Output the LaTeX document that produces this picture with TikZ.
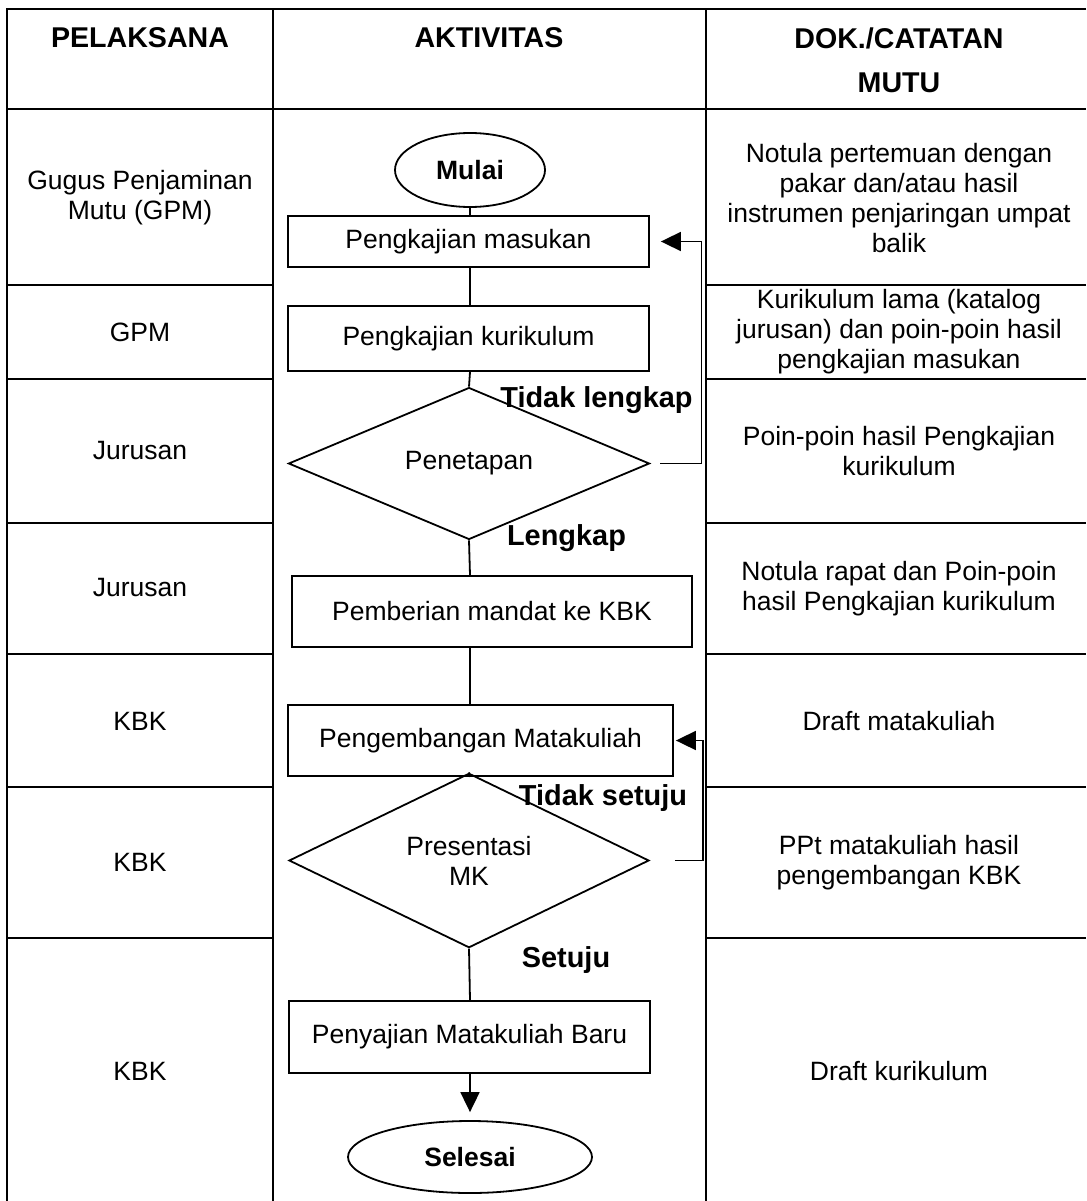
\documentclass[tikz,border=0pt]{standalone}
\usepackage{fontspec}
\setmainfont{Liberation Sans}
\usetikzlibrary{shapes.geometric,arrows.meta}
\newcommand\fbody{\fontsize{26.5}{30}\selectfont}
\newcommand\fhead{\fontsize{28.6}{44}\selectfont\bfseries}
\newcommand\flab{\fontsize{28.9}{32}\selectfont\bfseries}
\newcommand\fterm{\fontsize{26.5}{30}\selectfont\bfseries}
\begin{document}
\begin{tikzpicture}[x=1pt,y=-1pt,
  gridline/.style={line width=2.8pt},
  flow/.style={line width=1.8pt},
  arr/.style={flow,-{Triangle[length=20pt,width=19pt]}},
  boxnode/.style={draw,line width=1.8pt,rectangle,inner sep=0pt,font=\fbody},
  dia/.style={draw,line width=1.8pt,diamond,inner sep=0pt,font=\fbody,align=center},
  term/.style={draw,line width=1.8pt,ellipse,inner sep=0pt,font=\fterm},
  lab/.style={inner sep=0pt,font=\flab},
  cell/.style={inner sep=0pt,font=\fbody,align=center},
  head/.style={inner sep=0pt,font=\fhead,align=center}]
\useasboundingbox (0,0) rectangle (1086,1201);
% table frame
\draw[gridline] (1086,9) -- (7,9) -- (7,1201);
\draw[gridline] (7,109) -- (1086,109);
\draw[gridline] (273,9) -- (273,1201);
\draw[gridline] (706,9) -- (706,1201);
\foreach \yy in {285,379,523,654,787,938}{
  \draw[gridline] (7,\yy) -- (273,\yy);
  \draw[gridline] (706,\yy) -- (1086,\yy);
}
% headers
\node[head,anchor=base] (h1) at (140,48) {PELAKSANA};
\node[head,anchor=base] (h2) at (489,48) {AKTIVITAS};
\node[head] (h3) at (899,60) {DOK./CATATAN\\MUTU};
% left column
\node[cell] (p1) at (140,198) {Gugus Penjaminan\\Mutu (GPM)};
\node[cell] (p2) at (140,332) {GPM};
\node[cell] (p3) at (140,451) {Jurusan};
\node[cell] (p4) at (140,588) {Jurusan};
\node[cell] (p5) at (140,721) {KBK};
\node[cell] (p6) at (140,862) {KBK};
\node[cell] (p7) at (140,1071) {KBK};
% right column
\node[cell] (r1) at (899,198) {Notula pertemuan dengan\\pakar dan/atau hasil\\instrumen penjaringan umpat\\balik};
\node[cell] (r2) at (899,332) {Kurikulum lama (katalog\\jurusan) dan poin-poin hasil\\pengkajian masukan};
\node[cell] (r3) at (899,451) {Poin-poin hasil Pengkajian\\kurikulum};
\node[cell] (r4) at (899,589) {Notula rapat dan Poin-poin\\hasil Pengkajian kurikulum};
\node[cell] (r5) at (899,721) {Draft matakuliah};
\node[cell] (r6) at (899,863) {PPt matakuliah hasil\\pengembangan KBK};
\node[cell] (r7) at (899,1071) {Draft kurikulum};
% flow
\coordinate (ax) at (470,0);
\node[term,minimum width=150,minimum height=74] (mulai) at (470,170) {Mulai};
\node[boxnode,minimum width=361,minimum height=51] (b1) at (468.5,241.5) {Pengkajian masukan};
\node[boxnode,minimum width=361,minimum height=65] (b2) at (468.5,338.5) {Pengkajian kurikulum};
\node[dia,minimum width=361,minimum height=111] (d1) at (469,463.5) {Penetapan};
\node[boxnode,minimum width=400,minimum height=71] (b3) at (492,611.5) {Pemberian mandat ke KBK};
\node[boxnode,minimum width=385,minimum height=71] (b4) at (480.5,740.5) {Pengembangan Matakuliah};
\node[dia,minimum width=360,minimum height=133] (d2) at (469,860.5) {Presentasi\\MK};
\node[boxnode,minimum width=361,minimum height=72] (b5) at (469.5,1037) {Penyajian Matakuliah Baru};
\node[term,minimum width=244,minimum height=72] (selesai) at (470,1157) {Selesai};
% labels
\node[lab,anchor=base] (l1) at (596.5,407) {Tidak lengkap};
\node[lab,anchor=base] (l2) at (566.5,545) {Lengkap};
\node[lab,anchor=base] (l3) at (603,805) {Tidak setuju};
\node[lab,anchor=base] (l4) at (566,967) {Setuju};
% connectors
\draw[flow] (ax |- mulai.south) -- (ax |- b1.north);
\draw[flow] (ax |- b1.south) -- (ax |- b2.north);
\draw[flow] (ax |- b2.south) -- (d1.north);
\draw[flow] (d1.south) -- (ax |- b3.north);
\draw[flow] (ax |- b3.south) -- (ax |- b4.north);
\draw[flow] (ax |- b4.south) -- (d2.north);
\draw[flow] (d2.south) -- (ax |- b5.north);
\draw[arr,shorten >=8pt] (ax |- b5.south) -- (selesai.north);
\draw[arr,shorten <=10pt,shorten >=11pt] (d1.east) -- ++(51,0) |- (b1.east);
\draw[arr,shorten <=25pt,shorten >=2pt] (d2.east) -- ++(53,0) |- (b4.east);
\end{tikzpicture}
\end{document}
